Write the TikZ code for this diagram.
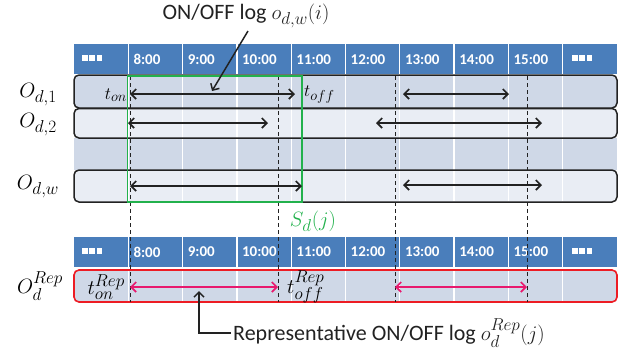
\documentclass[tikz,border=0pt]{standalone}
\usepackage{fontspec}
\setmainfont{Carlito}
\usetikzlibrary{arrows.meta}
\DeclareMathSizes{22}{22}{16.5}{13}
\DeclareMathSizes{19}{19}{14.5}{11.5}
\DeclareMathSizes{21}{21}{16}{12.5}
\definecolor{hdrblue}{RGB}{74,126,187}
\definecolor{rowdark}{RGB}{207,216,231}
\definecolor{rowlight}{RGB}{233,237,244}
\definecolor{grn}{RGB}{34,177,76}
\definecolor{redb}{RGB}{237,28,36}
\definecolor{pinkarr}{RGB}{232,25,110}
\definecolor{ink}{RGB}{34,34,34}
\tikzset{
  hdrtxt/.style={text=white, font=\bfseries\fontsize{15}{15}\selectfont, anchor=west, inner sep=0pt},
  sep/.style={white, line width=1.3pt},
  rowbox/.style={draw=ink, line width=1.5pt, rounded corners=5pt},
  dashln/.style={ink, line width=1pt, dash pattern=on 4pt off 3pt},
  dbl/.style={{Straight Barb[length=5pt,width=10pt]}-{Straight Barb[length=5pt,width=10pt]}, line width=1.7pt},
  ptr/.style={-{Straight Barb[length=5pt,width=10pt]}, line width=1.5pt, ink},
  rowlbl/.style={font=\fontsize{22}{22}\selectfont, inner sep=0pt},
  tlbl/.style={font=\fontsize{19}{19}\selectfont, inner sep=0pt},
  replbl/.style={font=\fontsize{21}{21}\selectfont, inner sep=0pt},
  bigtxt/.style={font=\fontsize{22}{22}\selectfont, text=ink, inner sep=2pt}
}
\newcommand{\sqdots}[2]{\foreach \k in {0,1,2} \fill[white] ({#1+7.3*\k},{#2-3}) rectangle +(5.5,5.5);}
\begin{document}
\begin{tikzpicture}[x=1pt,y=-1pt]
\useasboundingbox (0,0) rectangle (632,360);
% ---------- upper header
\fill[hdrblue] (74,44) rectangle (617,74);
\foreach \i in {1,...,9} \draw[sep] ({74+54.3*\i},44) -- ({74+54.3*\i},74);
\foreach \t [count=\i] in {8:00,9:00,10:00,11:00,12:00,13:00,14:00,15:00}
  \node[hdrtxt] (ha\i) at ({74+54.3*\i+5},59.5) {\t};
\sqdots{82}{58}
\sqdots{572}{58}
% ---------- upper rows
\fill[rowdark, rounded corners=5pt] (74,75) rectangle (617,108);
\fill[rowlight, rounded corners=5pt] (74,108) rectangle (617,138);
\fill[rowdark] (74,138) rectangle (617,170);
\fill[rowlight, rounded corners=5pt] (74,170) rectangle (617,202);
\foreach \i in {1,...,9} \draw[sep] ({74+54.3*\i},76) -- ({74+54.3*\i},201);
\draw[rowbox] (74,75) rectangle (617,108);
\draw[rowbox] (74,108.5) rectangle (617,138);
\draw[rowbox] (74,170) rectangle (617,202);
% ---------- lower header
\fill[hdrblue] (74,237) rectangle (617,267);
\foreach \i in {1,...,9} \draw[sep] ({74+54.3*\i},237) -- ({74+54.3*\i},267);
\foreach \t [count=\i] in {8:00,9:00,10:00,11:00,12:00,13:00,14:00,15:00}
  \node[hdrtxt] (hb\i) at ({74+54.3*\i+5},252) {\t};
\sqdots{82}{251}
\sqdots{572}{251}
% ---------- representative row
\fill[rowdark, rounded corners=5pt] (74,270) rectangle (617,302);
\foreach \i in {1,...,9} \draw[sep] ({74+54.3*\i},271) -- ({74+54.3*\i},301);
\draw[redb, line width=1.6pt, rounded corners=5pt] (74,270) rectangle (617,302);
% ---------- dashed guides
\foreach \n/\x in {a/130,b/278,c/395,d/527} {
  \coordinate (g\n t) at (\x,76);
  \coordinate (g\n b) at (\x,302);
  \draw[dashln] (g\n t) -- (g\n b);
}
% ---------- green window
\draw[grn, line width=1.6pt] (127.5,76) rectangle (302,202);
% ---------- arrows
\coordinate (r1a) at (130,94);  \coordinate (r1b) at (295,94);
\coordinate (r1c) at (403,94);  \coordinate (r1d) at (509,94);
\coordinate (r2a) at (128,123); \coordinate (r2b) at (268,123);
\coordinate (r2c) at (376,123); \coordinate (r2d) at (542,123);
\coordinate (rwa) at (130,186); \coordinate (rwb) at (302,186);
\coordinate (rwc) at (403,185); \coordinate (rwd) at (542,185);
\coordinate (rpa) at (130,287); \coordinate (rpb) at (278,287);
\coordinate (rpc) at (395,287); \coordinate (rpd) at (527,287);
\draw[dbl, ink] (r1a) -- (r1b);
\draw[dbl, ink] (r1c) -- (r1d);
\draw[dbl, ink] (r2a) -- (r2b);
\draw[dbl, ink] (r2c) -- (r2d);
\draw[dbl, ink] (rwa) -- (rwb);
\draw[dbl, ink] (rwc) -- (rwd);
\draw[dbl, pinkarr] (rpa) -- (rpb);
\draw[dbl, pinkarr] (rpc) -- (rpd);
% ---------- labels
\node[rowlbl] (o1) at (38,95) {$O_{d,1}$};
\node[rowlbl] (o2) at (38,125) {$O_{d,2}$};
\node[rowlbl] (ow) at (38,187) {$O_{d,w}$};
\node[rowlbl] (orep) at (40,286) {$O_{d}^{Rep}$};
\node[tlbl, anchor=east] (ton) at (127,95) {$t_{on}$};
\node[tlbl, anchor=west] (toff) at (304,95) {$t_{off}$};
\node[replbl, anchor=east] (tonr) at (125,287) {$t_{on}^{Rep}$};
\node[replbl, anchor=west] (toffr) at (287,287) {$t_{off}^{Rep}$};
\node[rowlbl, text=grn] (sd) at (313,221) {$S_d(j)$};
\node[bigtxt] (top) at (246,16) {ON/OFF log $o_{d,w}(i)$};
\node[bigtxt, anchor=west] (bot) at (231,333) {Representative ON/OFF log $o_{d}^{Rep}(j)$};
% ---------- pointers
\coordinate (tpa) at (248,31);
\coordinate (tpb) at (212,91);
\draw[ptr] (tpa) -- (tpb);
\coordinate (bpb) at (199,291);
\draw[ptr] (bot.west) -| (bpb);
\end{tikzpicture}
\end{document}
